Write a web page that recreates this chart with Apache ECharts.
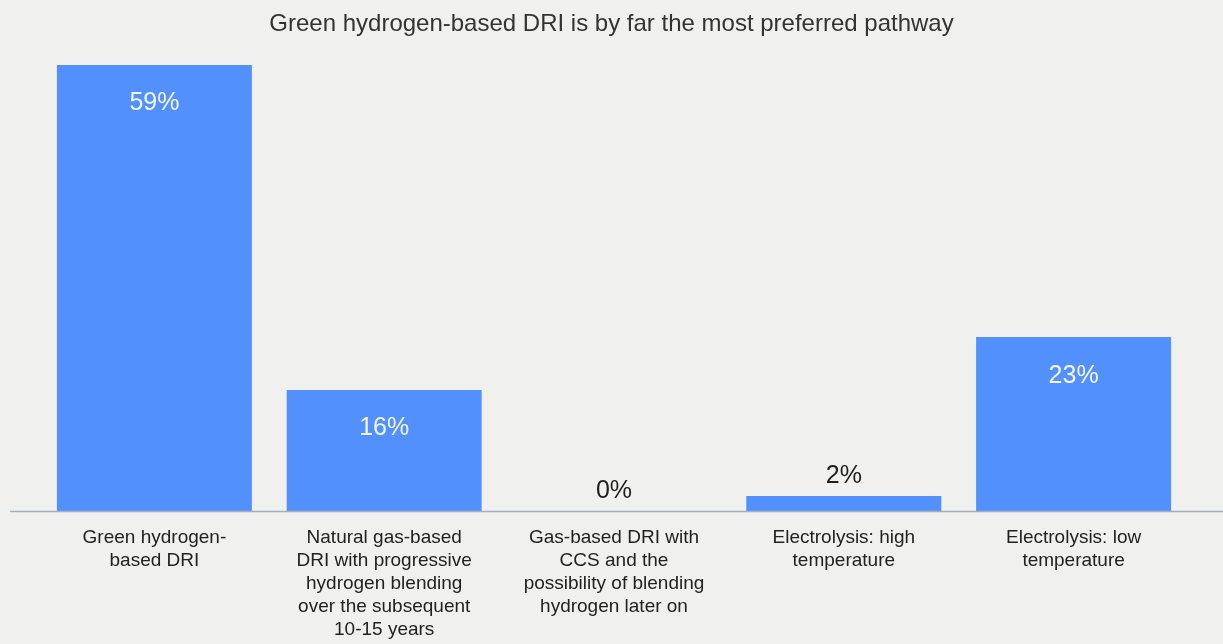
<!DOCTYPE html>
<html>
<head>
<meta charset="utf-8">
<script src="https://cdn.jsdelivr.net/npm/echarts@6/dist/echarts.min.js"></script>
<style>
  html, body { margin: 0; padding: 0; background: #f0f0ee; }
  #chart { width: 1223px; height: 644px; }
</style>
</head>
<body>
<div id="chart"></div>
<script>
const titleText = 'Green hydrogen-based DRI is by far the most preferred pathway';
const categories = [
  'Green hydrogen-\nbased DRI',
  'Natural gas-based\nDRI with progressive\nhydrogen blending\nover the subsequent\n10-15 years',
  'Gas-based DRI with\nCCS and the\npossibility of blending\nhydrogen later on',
  'Electrolysis: high\ntemperature',
  'Electrolysis: low\ntemperature'
];
const shares = [59, 16, 0, 2, 23];

const chart = echarts.init(document.getElementById('chart'), null, { renderer: 'canvas' });
const FONT = '"Liberation Sans", Arial, Helvetica, sans-serif';
const GRID_BOTTOM = 133;

// tall bars carry their label inside; short ones get it above
const barData = shares.map(v => ({
  value: v,
  label: v >= 10
    ? { position: 'insideTop', distance: 26, color: '#f4f6fb' }
    : { position: 'top', distance: 7, color: '#1f1f1f' }
}));

chart.setOption({
  backgroundColor: '#f0f0ee',
  animation: false,
  title: {
    text: titleText,
    left: 'center',
    top: 7,
    textStyle: { fontFamily: FONT, fontSize: 24, fontWeight: 'normal', color: '#333333' }
  },
  grid: { left: 39.5, right: 34.5, top: 57.4, bottom: GRID_BOTTOM, containLabel: false },
  xAxis: {
    type: 'category',
    data: categories,
    axisLine: { show: false },
    axisTick: { show: false },
    axisLabel: {
      interval: 0,
      margin: 15,
      fontFamily: FONT,
      fontSize: 19,
      lineHeight: 23,
      color: '#222222',
      align: 'center'
    }
  },
  yAxis: {
    type: 'value',
    min: 0,
    max: 60,
    show: false,
    splitLine: { show: false }
  },
  graphic: [{
    // baseline rule running the full width under the bars
    type: 'line',
    shape: { x1: 10, y1: 644 - GRID_BOTTOM + 0.5, x2: 1223, y2: 644 - GRID_BOTTOM + 0.5 },
    style: { stroke: '#a4aec0', lineWidth: 1.5 },
    z: 10
  }],
  series: [{
    type: 'bar',
    data: barData,
    barWidth: 195,
    itemStyle: { color: '#5291fd' },
    label: {
      show: true,
      formatter: '{c}%',
      fontFamily: FONT,
      fontSize: 25
    }
  }]
});
</script>
</body>
</html>
